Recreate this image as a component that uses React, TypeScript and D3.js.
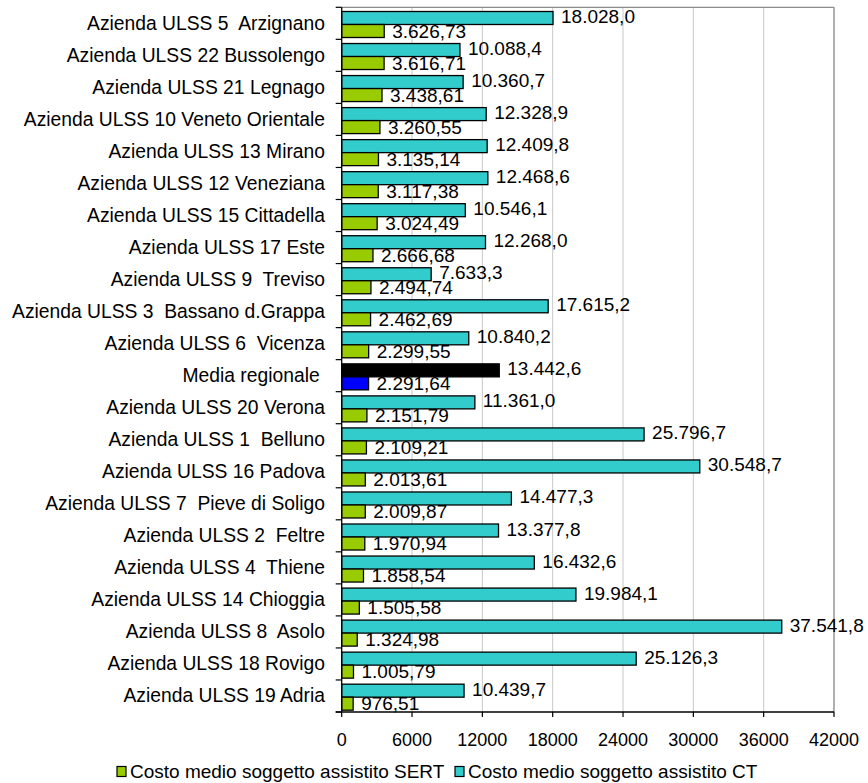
import React from "react";
import * as d3 from "d3";

const categories = [
  "Azienda ULSS 5  Arzignano",
  "Azienda ULSS 22 Bussolengo",
  "Azienda ULSS 21 Legnago",
  "Azienda ULSS 10 Veneto Orientale",
  "Azienda ULSS 13 Mirano",
  "Azienda ULSS 12 Veneziana",
  "Azienda ULSS 15 Cittadella",
  "Azienda ULSS 17 Este",
  "Azienda ULSS 9  Treviso",
  "Azienda ULSS 3  Bassano d.Grappa",
  "Azienda ULSS 6  Vicenza",
  "Media regionale ",
  "Azienda ULSS 20 Verona",
  "Azienda ULSS 1  Belluno",
  "Azienda ULSS 16 Padova",
  "Azienda ULSS 7  Pieve di Soligo",
  "Azienda ULSS 2  Feltre",
  "Azienda ULSS 4  Thiene",
  "Azienda ULSS 14 Chioggia",
  "Azienda ULSS 8  Asolo",
  "Azienda ULSS 18 Rovigo",
  "Azienda ULSS 19 Adria",
];

const costCT = [
  18028.0, 10088.4, 10360.7, 12328.9, 12409.8, 12468.6, 10546.1, 12268.0, 7633.3, 17615.2, 10840.2,
  13442.6, 11361.0, 25796.7, 30548.7, 14477.3, 13377.8, 16432.6, 19984.1, 37541.8, 25126.3, 10439.7,
];

const costSERT = [
  3626.73, 3616.71, 3438.61, 3260.55, 3135.14, 3117.38, 3024.49, 2666.68, 2494.74, 2462.69, 2299.55,
  2291.64, 2151.79, 2109.21, 2013.61, 2009.87, 1970.94, 1858.54, 1505.58, 1324.98, 1005.79, 976.51,
];

const xTicks = [0, 6000, 12000, 18000, 24000, 30000, 36000, 42000];
const seriesNames = ["Costo medio soggetto assistito SERT", "Costo medio soggetto assistito CT"];
const highlightCategory = "Media regionale ";

const W = 868;
const H = 783;
const FONT = "Liberation Sans, Arial, sans-serif";
const FS = 19;

const COL_CT = "#33CCCC";
const COL_SERT = "#99CC00";
const COL_CT_HL = "#000000";
const COL_SERT_HL = "#0000FF";

const it = d3.formatLocale({ decimal: ",", thousands: ".", grouping: [3], currency: ["€", ""] });
const fmt1 = it.format(",.1f");
const fmt2 = it.format(",.2f");

export default function App() {
  const left = 341.7;
  const right = 834;
  const top = 7.3;
  const bottom = 712;

  const x = d3.scaleLinear().domain([0, 42000]).range([left, right]);
  const y = d3.scaleBand<string>().domain(categories).range([top, bottom]).padding(0);
  const bh = 13;
  const off = 4.2;

  const rows = categories.map((c, i) => ({ c, ct: costCT[i], sert: costSERT[i], hl: c === highlightCategory }));

  return (
    <div style={{ position: "absolute", left: 0, top: 0, width: W, height: H, background: "#fff" }}>
      <svg width={W} height={H} style={{ display: "block", fontFamily: FONT }}>
        <rect x={0} y={0} width={W} height={H} fill="#fff" />
        {/* gridlines */}
        {xTicks.slice(1).map((t) => (
          <line key={"g" + t} x1={x(t)} x2={x(t)} y1={top} y2={bottom} stroke="#C8C8C8" strokeWidth={1} />
        ))}
        {/* plot border top & right */}
        <line x1={left} x2={right} y1={top} y2={top} stroke="#8C8C8C" strokeWidth={1.2} />
        <line x1={right} x2={right} y1={top} y2={bottom} stroke="#8C8C8C" strokeWidth={1.2} />
        {/* bars */}
        {rows.map((r) => {
          const y0 = y(r.c)!;
          return (
            <g key={"b" + r.c}>
              <rect
                x={x(0)}
                y={y0 + off}
                width={x(r.ct) - x(0)}
                height={bh}
                fill={r.hl ? COL_CT_HL : COL_CT}
                stroke="#000"
                strokeWidth={1.3}
              />
              <rect
                x={x(0)}
                y={y0 + off + bh}
                width={x(r.sert) - x(0)}
                height={bh}
                fill={r.hl ? COL_SERT_HL : COL_SERT}
                stroke="#000"
                strokeWidth={1.3}
              />
            </g>
          );
        })}
        {/* value labels */}
        {rows.map((r) => {
          const y0 = y(r.c)!;
          return (
            <g key={"l" + r.c} fontSize={FS} fill="#000">
              <text x={x(r.ct) + 8} y={y0 + off + bh / 2 - 1.5} dominantBaseline="central">
                {fmt1(r.ct)}
              </text>
              <text x={x(r.sert) + 8} y={y0 + off + bh * 1.5} dominantBaseline="central">
                {fmt2(r.sert)}
              </text>
            </g>
          );
        })}
        {/* category axis */}
        <line x1={left} x2={left} y1={top} y2={bottom} stroke="#000" strokeWidth={1.3} />
        {categories.map((c, i) => (
          <line key={"ct" + i} x1={left - 6} x2={left} y1={y(c)!} y2={y(c)!} stroke="#000" strokeWidth={1.2} />
        ))}
        <line x1={left - 6} x2={left} y1={bottom} y2={bottom} stroke="#000" strokeWidth={1.2} />
        {categories.map((c) => (
          <text
            key={"cl" + c}
            x={325}
            y={y(c)! + y.bandwidth() / 2}
            textAnchor="end"
            dominantBaseline="central"
            fontSize={19.3}
            fill="#000"
            style={{ whiteSpace: "pre" }}
          >
            {c}
          </text>
        ))}
        {/* value axis */}
        <line x1={left - 6} x2={right} y1={bottom} y2={bottom} stroke="#000" strokeWidth={1.3} />
        {xTicks.map((t) => (
          <g key={"xt" + t}>
            <line x1={x(t)} x2={x(t)} y1={bottom} y2={bottom + 5} stroke="#000" strokeWidth={1.2} />
            <text x={x(t)} y={740} textAnchor="middle" dominantBaseline="central" fontSize={18} fill="#000">
              {t}
            </text>
          </g>
        ))}
        {/* legend */}
        <g fontSize={FS} fill="#000">
          <rect x={117} y={766.5} width={9} height={10} fill={COL_SERT} stroke="#000" strokeWidth={1.2} />
          <text x={130} y={771} dominantBaseline="central">{seriesNames[0]}</text>
          <rect x={455} y={766.5} width={9} height={10} fill={COL_CT} stroke="#000" strokeWidth={1.2} />
          <text x={468} y={771} dominantBaseline="central">{seriesNames[1]}</text>
        </g>
      </svg>
    </div>
  );
}
